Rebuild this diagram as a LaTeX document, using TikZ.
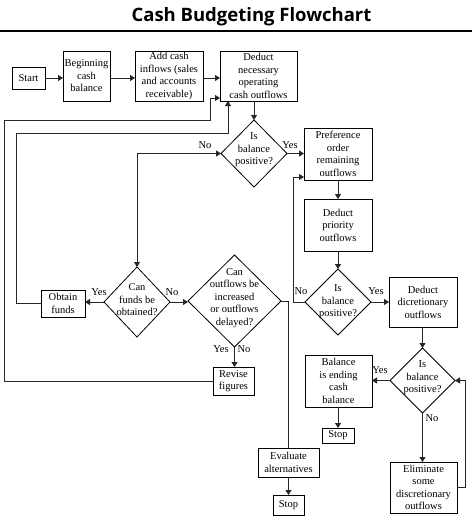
\documentclass[tikz,border=0pt]{standalone}
\usepackage{fontspec}
\setmainfont{Liberation Serif}
\newfontfamily\titlefont{Open Sans}
\usetikzlibrary{arrows.meta,shapes.geometric,calc}
\begin{document}
\begin{tikzpicture}[x=1pt,y=-1pt,
  every node/.style={font=\fontsize{10.5}{12.5}\selectfont},
  box/.style={draw, line width=0.8pt, outer sep=0pt, inner sep=1pt, align=center},
  dec/.style={diamond, draw, line width=0.8pt, outer sep=0pt, inner sep=0pt},
  dtext/.style={align=center, inner sep=0pt},
  lab/.style={inner sep=0pt},
  conn/.style={line width=0.8pt, draw=black!85},
  arr/.style={conn, -{Triangle[length=5pt,width=6pt]}},
  darr/.style={conn, {Triangle[length=5pt,width=6pt]}-{Triangle[length=5pt,width=6pt]}}
]
\useasboundingbox (0,0) rectangle (472,523);
% title
\node (title) at (251.5,16.5) {\titlefont\fontsize{18.5}{22}\selectfont\bfseries Cash Budgeting Flowchart};
\draw[line width=2pt] (0,31) -- (472,31);

% boxes
\node[box, minimum width=33pt, minimum height=22pt] (start) at (28.5,78) {Start};
\node[box, minimum width=47pt, minimum height=50pt] (begin) at (86.5,76) {Beginning\\cash\\balance};
\node[box, minimum width=68pt, minimum height=50pt] (add) at (169,76) {Add cash\\inflows (sales\\and accounts\\receivable)};
\node[box, minimum width=77pt, minimum height=50pt] (deduct) at (258.5,76) {Deduct\\necessary\\operating\\cash outflows};
\node[box, minimum width=68pt, minimum height=52pt] (pref) at (338,154) {Preference\\order\\remaining\\outflows};
\node[box, minimum width=68pt, minimum height=52pt] (prio) at (338,225) {Deduct\\priority\\outflows};
\node[box, minimum width=68pt, minimum height=50pt] (disc) at (423,302) {Deduct\\dicretionary\\outflows};
\node[box, minimum width=67pt, minimum height=52pt] (endbal) at (338.5,381) {Balance\\is ending\\cash\\balance};
\node[box, minimum width=32pt, minimum height=15pt] (stopa) at (338,435.5) {Stop};
\node[box, minimum width=67pt, minimum height=51pt] (elim) at (423.5,487.5) {Eliminate\\some\\discretionary\\outflows};
\node[box, minimum width=44pt, minimum height=27pt] (obtain) at (63,303.5) {Obtain\\funds};
\node[box, minimum width=41pt, minimum height=28pt] (revise) at (233.5,381) {Revise\\figures};
\node[box, minimum width=61pt, minimum height=29pt] (eval) at (288.5,462.5) {Evaluate\\alternatives};
\node[box, minimum width=31pt, minimum height=20pt] (stopb) at (288.5,505) {Stop};

% diamonds
\node[dec, minimum width=66pt, minimum height=67pt] (d1) at (254,153.5) {};
\node[dtext] (d1t) at (254,150) {Is\\balance\\positive?};
\node[dec, minimum width=66pt, minimum height=66pt] (d3) at (338,302) {};
\node[dtext] (d3t) at (338,302) {Is\\balance\\positive?};
\node[dec, minimum width=65pt, minimum height=65pt] (d4) at (422.5,380.5) {};
\node[dtext] (d4t) at (422.5,378) {Is\\balance\\positive?};
\node[dec, minimum width=66pt, minimum height=70pt] (cf) at (137,302) {};
\node[dtext] (cft) at (137,300) {Can\\funds be\\obtained?};
\node[dec, minimum width=93pt, minimum height=92pt] (co) at (234.5,301) {};
\node[dtext] (cot) at (234.5,298) {Can\\outflows be\\increased\\or outflows\\delayed?};

% labels
\node[lab] (l1no) at (205,145) {No};
\node[lab] (l1yes) at (290,145) {Yes};
\node[lab] (lcfyes) at (99,292) {Yes};
\node[lab] (lcfno) at (172,292) {No};
\node[lab] (lcoyes) at (221,349) {Yes};
\node[lab] (lcono) at (244,349) {No};
\node[lab] (l3no) at (301,291) {No};
\node[lab] (l3yes) at (376,291) {Yes};
\node[lab] (l4yes) at (380,370) {Yes};
\node[lab] (l4no) at (432,418) {No};

% helper coordinates
\coordinate (c1a) at (4,120);
\coordinate (c1b) at (210,120);
\coordinate (c2a) at (16,133);
\coordinate (c3) at (293,302);

% connectors
\draw[arr] (start.east) -- (start.east -| begin.west);
\draw[arr] (begin.east |- start.east) -- (add.west |- start.east);
\draw[arr] (add.east |- start.east) -- (deduct.west |- start.east);
\draw[arr] (d1.north |- deduct.south) -- (d1.north);
\draw[darr] (d1.west) -| (cf.north);
\draw[arr] (d1.east) -- (d1.east -| pref.west);
\draw[arr] (pref) -- (prio);
\draw[arr] (prio.south) -- (d3.north);
\draw[arr] (d3.west) -- (c3) |- ([yshift=3pt]pref.south west);
\draw[arr] (d3.east) -- (d3.east -| disc.west);
\draw[arr] (disc.south -| d4.north) -- (d4.north);
\draw[arr] (d4.west) -- (d4.west -| endbal.east);
\draw[arr] (endbal.south -| stopa.north) -- (stopa.north);
\draw[arr] (d4.south) -- (d4.south |- elim.north);
\draw[arr] (elim.east) -- ++(8,0) |- (d4.east);
\draw[arr] (cf.west) -- (cf.west -| obtain.east);
\draw[arr] (obtain.west) -| (c2a) -| ([xshift=8pt]deduct.south west);
\draw[arr] (cf.east) -- (cf.east -| co.west);
\draw[arr] (co.south) -- (co.south |- revise.north);
\draw[arr] (revise.west) -| (c1a) -- (c1b) |- ([yshift=3pt]deduct.south west);
\draw[conn] (co.east) -| (eval.north);
\draw[arr] (eval) -- (stopb);
\end{tikzpicture}
\end{document}
